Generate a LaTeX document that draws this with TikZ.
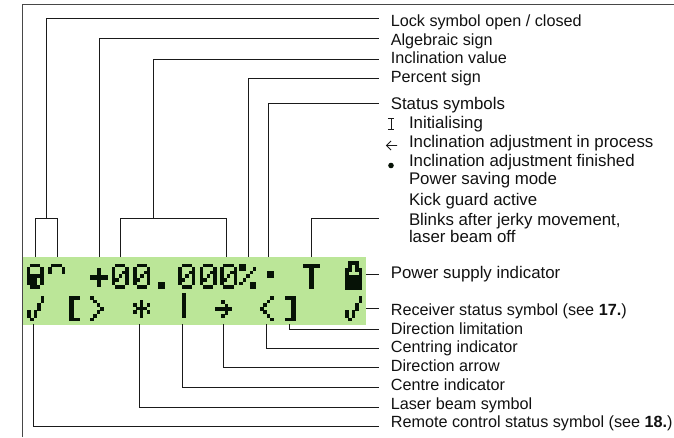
\documentclass[tikz,border=0pt]{standalone}
\usepackage{fontspec}
\setmainfont{Liberation Sans}
\definecolor{lcdgreen}{HTML}{BBE698}
\definecolor{lcdink}{HTML}{061206}
\definecolor{leader}{HTML}{1A1A1A}
\definecolor{labelink}{HTML}{111111}
\newcount\pxc
\def\pxu{3.4}
\def\pxv{3.62}
\def\gx{0}\def\gy{0}\def\gj{0}
\def\pxrow#1{\ifx#1\relax\else
  \if#1X\fill[lcdink] ({\gx+\the\pxc*\pxu},{\gy+\gj*\pxv}) rectangle ({\gx+\the\pxc*\pxu+\pxu+0.1},{\gy+\gj*\pxv+\pxv+0.1});\fi
  \advance\pxc by 1 \expandafter\pxrow\fi}
\newcommand{\lcdglyph}[3]{\def\gx{#1}\def\gy{#2}%
  \foreach \rw [count=\jj from 0] in {#3} {\let\gj\jj\pxc=0 \expandafter\pxrow\rw\relax}}
\tikzset{
  leadline/.style={draw=leader,line width=0.95pt},
  framerule/.style={draw=leader!80!white,line width=0.95pt},
  lab/.style={anchor=base west,inner xsep=12.3pt,inner ysep=0pt,outer sep=0pt,text height=#1,text depth=0pt,text=labelink,font=\fontsize{16.2}{19}\selectfont},
  largelab/.style={font=\fontsize{16.85}{19}\selectfont},
  sublab/.style={anchor=base west,inner sep=0pt,outer sep=0pt,text=labelink,font=\fontsize{16.85}{19}\selectfont},
  lcdpanel/.style={fill=lcdgreen,draw=none}
}
\begin{document}
\begin{tikzpicture}[x=1pt,y=-1pt]
\useasboundingbox (0,0) rectangle (674,437);
% frame
\coordinate (fbl) at (22,437);
\coordinate (ftl) at (22,4.3);
\coordinate (ftr) at (674,4.3);
\draw[framerule] (fbl) -- (ftl) -- (ftr);
% panel
\fill[lcdpanel] (22.7,256.7) rectangle (366,324.5);
% labels
\node[lab=15.4pt] (lLock) at (378.5,26) {Lock symbol open / closed};
\node[lab=13pt] (lAlg) at (378.5,45) {Algebraic sign};
\node[lab=7.6pt] (lInc) at (378.5,63) {Inclination value};
\node[lab=8.8pt] (lPct) at (378.5,82.7) {Percent sign};
\node[lab=12pt,largelab] (lStat) at (378.5,109.3) {Status symbols};
\node[sublab] (sInit) at (409,128.3) {Initialising};
\node[sublab] (sProc) at (409,147.3) {Inclination adjustment in process};
\node[sublab] (sFin) at (409,166) {Inclination adjustment finished};
\node[sublab] (sSave) at (409,184) {Power saving mode};
\node[sublab] (sKick) at (409,205) {Kick guard active};
\node[lab=13.4pt,largelab,inner xsep=30.5pt] (sBlink) at (378.5,225) {Blinks after jerky movement,};
\node[sublab] (sOff) at (409,242.7) {laser beam off};
\node[lab=8.6pt,largelab] (lPow) at (378.5,278.3) {Power supply indicator};
\node[lab=13.4pt] (lRec) at (378.5,315) {Receiver status symbol (see \textbf{17.})};
\node[lab=9.4pt] (lLim) at (378.5,334) {Direction limitation};
\node[lab=8.8pt] (lCtr) at (378.5,352.7) {Centring indicator};
\node[lab=8pt] (lArr) at (378.5,371.7) {Direction arrow};
\node[lab=6pt] (lCen) at (378.5,390.7) {Centre indicator};
\node[lab=4pt] (lLas) at (378.5,409) {Laser beam symbol};
\node[lab=2pt] (lRem) at (378.5,427.3) {Remote control status symbol (see \textbf{18.})};
% status icons
\draw[leadline,line width=0.8pt] (387.8,118.6) -- (394,118.6) (390.9,118.6) -- (390.9,129.4) (387.8,129.4) -- (394,129.4);
\draw[leadline,line width=0.8pt] (397,145.5) -- (386.5,145.5) (391,141) -- (386.5,145.5) -- (391,150);
\fill[lcdink] (391,165.5) circle (2.8);
% anchor points on the panel
\coordinate (tLockA) at (35,257);
\coordinate (tLockB) at (57,257);
\coordinate (jLock) at (46,218.5);
\coordinate (tAlg) at (99.5,257);
\coordinate (tIncA) at (120,257);
\coordinate (tIncB) at (226.7,257);
\coordinate (jInc) at (153,218.5);
\coordinate (tPct) at (248.3,257);
\coordinate (tStat) at (268.7,257);
\coordinate (tKick) at (311,257);
\coordinate (rPow) at (366,274);
\coordinate (rRec) at (366,308.3);
\coordinate (bLim) at (289.3,324);
\coordinate (bCtr) at (266,324);
\coordinate (bArr) at (223.3,324);
\coordinate (bCen) at (182.7,324);
\coordinate (bLas) at (139.3,324);
\coordinate (bRem) at (33.7,324);
% connectors
\draw[leadline] (tLockA) |- (jLock) -| (tLockB);
\draw[leadline] (jLock) |- (lLock.west);
\draw[leadline] (tAlg) |- (lAlg.west);
\draw[leadline] (tIncA) |- (jInc) -| (tIncB);
\draw[leadline] (jInc) |- (lInc.west);
\draw[leadline] (tPct) |- (lPct.west);
\draw[leadline] (tStat) |- (lStat.west);
\draw[leadline] (tKick) |- (sBlink.west);
\draw[leadline] (rPow) -- (lPow.west);
\draw[leadline] (rRec) -- (lRec.west);
\draw[leadline] (bLim) |- (lLim.west);
\draw[leadline] (bCtr) |- (lCtr.west);
\draw[leadline] (bArr) |- (lArr.west);
\draw[leadline] (bCen) |- (lCen.west);
\draw[leadline] (bLas) |- (lLas.west);
\draw[leadline] (bRem) |- (lRem.west);
% first LCD row
\lcdglyph{26.7}{263.5}{oXXXo,XoooX,XoooX,XXXXX,XXXoX,XXXoX,oXXXo}
\lcdglyph{48}{263.5}{oXXXo,XoooX,XoooX}
\fill[lcdink] (90,274.7) rectangle (107.7,279.9);
\fill[lcdink] (96.7,268) rectangle (101.2,286.5);
\lcdglyph{111.7}{263.5}{oXXXo,XoooX,XooXX,XoXoX,XXooX,XoooX,oXXXo}
\lcdglyph{133.3}{263.5}{oXXXo,XoooX,XooXX,XoXoX,XXooX,XoooX,oXXXo}
\lcdglyph{154.3}{263.5}{ooooo,ooooo,ooooo,ooooo,ooooo,oXXoo,oXXoo}
\lcdglyph{178.3}{263.5}{oXXXo,XoooX,XooXX,XoXoX,XXooX,XoooX,oXXXo}
\lcdglyph{199.7}{263.5}{oXXXo,XoooX,XooXX,XoXoX,XXooX,XoooX,oXXXo}
\lcdglyph{220}{263.5}{oXXXo,XoooX,XooXX,XoXoX,XXooX,XoooX,oXXXo}
\lcdglyph{239.3}{263.5}{XXooo,XXooX,oooXo,ooXoo,oXooo,XooXX,oooXX}
\lcdglyph{260.3}{263.5}{ooooo,ooooo,ooXXo,ooXXo}
\fill[lcdink] (302.7,264) rectangle (320,268.4);
\fill[lcdink] (308.5,264) rectangle (314.3,288.5);
\lcdglyph{345}{261}{oXXXo,oXoXo,XXoXX,XoooX,XXXXX,XXXXX,XXXXX,XXXXX}
% second LCD row
\lcdglyph{27}{296}{ooooX,ooooX,oooXo,oooXo,XoXoo,XoXoo,oXooo}
\lcdglyph{69.3}{296}{XXXoo,Xoooo,Xoooo,Xoooo,Xoooo,Xoooo,XXXoo}
\fill[lcdink] (69.3,296) rectangle (74,321);
\lcdglyph{90}{296}{Xoooo,oXooo,ooXoo,oooXo,ooXoo,oXooo,Xoooo}
\lcdglyph{133}{299.5}{ooXoo,XoXoX,oXXXo,XoXoX,ooXoo}
\fill[lcdink] (181.7,293.3) rectangle (186.2,317.5);
\lcdglyph{214.5}{300}{ooXoo,oooXo,XXXXX,oooXo,ooXoo}
\lcdglyph{260}{296}{oooX,ooXo,oXoo,Xooo,oXoo,ooXo,oooX}
\lcdglyph{285}{296}{XXX,ooX,ooX,ooX,ooX,ooX,XXX}
\fill[lcdink] (291,296) rectangle (295.7,321);
\lcdglyph{345}{296}{ooooX,ooooX,oooXo,oooXo,XoXoo,XoXoo,oXooo}
\end{tikzpicture}
\end{document}
